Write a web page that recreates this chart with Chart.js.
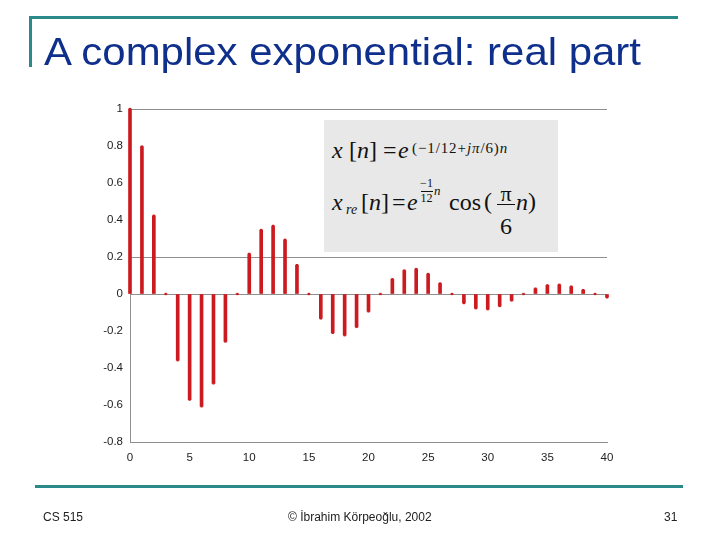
<!DOCTYPE html>
<html>
<head>
<meta charset="utf-8">
<script src="https://cdn.jsdelivr.net/npm/chart.js@4/dist/chart.umd.min.js"></script>
<style>
  html,body{margin:0;padding:0;background:#fff;}
  #page{position:relative;width:720px;height:540px;overflow:hidden;background:#fff;font-family:"Liberation Sans",Arial,sans-serif;}
  #chart{position:absolute;left:0;top:0;}
  .ab{position:absolute;white-space:nowrap;}
  #title{left:44px;top:32px;font-size:39px;line-height:1;color:#0f2f8c;transform-origin:0 0;}
  .m{position:absolute;white-space:nowrap;font-family:"Liberation Serif","Times New Roman",serif;line-height:1;color:#111;}
  .c{text-align:center;}
  .foot{font-size:12px;color:#222;line-height:1;}
</style>
</head>
<body>
<div id="page">
  <canvas id="chart" width="720" height="540"></canvas>
  <!-- slide decorations -->
  <div class="ab" style="left:29px;top:16px;width:649px;height:3px;background:#2a8a8a;"></div>
  <div class="ab" style="left:29px;top:16px;width:3px;height:51px;background:#2a8a8a;"></div>
  <div class="ab" id="title">A complex exponential: real part</div>
  <div class="ab" style="left:35px;top:485px;width:648px;height:3px;background:#2a8a8a;"></div>
  <div class="ab foot" style="left:43px;top:511px;">CS 515</div>
  <div class="ab foot" style="left:288px;top:511px;">© İbrahim Körpeoğlu, 2002</div>
  <div class="ab foot" style="left:664px;top:511px;">31</div>

  <!-- formula box -->
  <div class="ab" style="left:324px;top:120px;width:234px;height:132px;background:#e8e8e8;"></div>
  <!-- line 1 -->
  <div class="m" style="left:332px;top:138px;font-size:24px;"><i>x</i></div>
  <div class="m" style="left:349px;top:138px;font-size:24px;">[<i>n</i>]</div>
  <div class="m" style="left:383px;top:138px;font-size:24px;">=</div>
  <div class="m" style="left:398px;top:138px;font-size:24px;"><i>e</i></div>
  <div class="m" style="left:412px;top:141px;font-size:15px;letter-spacing:0.9px;">(−1/12+<i>jπ</i>/6)<i>n</i></div>
  <!-- line 2 -->
  <div class="m" style="left:332px;top:190px;font-size:24px;"><i>x</i></div>
  <div class="m" style="left:346px;top:203px;font-size:14px;"><i>re</i></div>
  <div class="m" style="left:361px;top:190px;font-size:24px;">[<i>n</i>]</div>
  <div class="m" style="left:392px;top:190px;font-size:24px;">=</div>
  <div class="m" style="left:407px;top:190px;font-size:24px;"><i>e</i></div>
  <div class="m c" style="left:419px;top:177px;width:15px;font-size:12px;">−1</div>
  <div class="ab" style="left:421px;top:191px;width:12px;height:1px;background:#111;"></div>
  <div class="m c" style="left:419px;top:192px;width:15px;font-size:12px;">12</div>
  <div class="m" style="left:434px;top:184px;font-size:13px;"><i>n</i></div>
  <div class="m" style="left:449px;top:190px;font-size:24px;">cos</div>
  <div class="m" style="left:484px;top:189px;font-size:24px;">(</div>
  <div class="m c" style="left:496px;top:183px;width:20px;font-size:22px;">π</div>
  <div class="ab" style="left:497px;top:204px;width:18px;height:1px;background:#111;"></div>
  <div class="m c" style="left:496px;top:214px;width:20px;font-size:24px;">6</div>
  <div class="m" style="left:516px;top:190px;font-size:24px;"><i>n</i></div>
  <div class="m" style="left:528px;top:189px;font-size:24px;">)</div>
</div>
<script>
// ---- data ----
const nValues = [0,1,2,3,4,5,6,7,8,9,10,11,12,13,14,15,16,17,18,19,20,21,22,23,24,25,26,27,28,29,30,31,32,33,34,35,36,37,38,39,40];
const xre = [1.0,0.797,0.423,0.0,-0.358,-0.571,-0.607,-0.483,-0.257,0.0,
             0.217,0.346,0.368,0.293,0.156,0.0,-0.132,-0.210,-0.223,-0.178,
             -0.094,0.0,0.080,0.127,0.135,0.108,0.057,0.0,-0.049,-0.077,
             -0.082,-0.065,-0.035,0.0,0.029,0.047,0.050,0.040,0.021,0.0,-0.018];
const yTickValues = [-0.8,-0.6,-0.4,-0.2,0,0.2,0.4,0.6,0.8,1];
const yTickLabels = ['-0.8','-0.6','-0.4','-0.2','0','0.2','0.4','0.6','0.8','1'];
const xTickLabels = ['0','5','10','15','20','25','30','35','40'];
const gridAt = [1,0.2,0];

// fit title width
const t = document.getElementById('title');
t.style.transform = 'scaleX(' + (597 / t.offsetWidth) + ')';

const pts = nValues.map((n,i)=>({x:n,y:xre[i]}));
const RED = '#cc1b20';
const GRID = '#8f8f8f';

new Chart(document.getElementById('chart'), {
  type: 'bar',
  data: {
    datasets: [
      { type:'bar', data: pts, backgroundColor: RED, borderWidth:0, barThickness:3, clip:false, order:2 },
      { type:'scatter', data: pts, backgroundColor: RED, borderWidth:0, pointStyle:'rect', pointRadius:1.6, clip:false, order:1 }
    ]
  },
  options: {
    responsive:false, animation:false, devicePixelRatio:1,
    layout:{ padding:{ left:80, right:113, top:109, bottom:68 } },
    plugins:{ legend:{display:false}, tooltip:{enabled:false} },
    scales:{
      x:{ type:'linear', min:0, max:40, offset:false,
          grid:{ display:false, drawTicks:false },
          border:{ display:true, color:GRID, width:1 },
          ticks:{ stepSize:5, padding:9, color:'#222', font:{family:'"Liberation Sans", Arial', size:11.5},
                  callback:(v)=>{ const i = Math.round(v/5); return (Math.abs(v-i*5)<1e-6 && xTickLabels[i]!==undefined) ? xTickLabels[i] : ''; } },
          afterFit:(s)=>{ s.height = 30; } },
      y:{ min:-0.8, max:1,
          grid:{ drawTicks:false, lineWidth:1,
                 color:(c)=>{ const v = c.tick ? c.tick.value : null; return (v!==null && gridAt.some(g=>Math.abs(g-v)<1e-6)) ? GRID : 'rgba(0,0,0,0)'; } },
          border:{ display:true, color:GRID, width:1 },
          ticks:{ stepSize:0.2, padding:7, color:'#222', font:{family:'"Liberation Sans", Arial', size:11.5},
                  callback:(v)=>{ const i = yTickValues.findIndex(tv=>Math.abs(tv-v)<1e-6); return i>=0 ? yTickLabels[i] : ''; } },
          afterFit:(s)=>{ s.width = 50; } }
    }
  }
});
</script>
</body>
</html>
